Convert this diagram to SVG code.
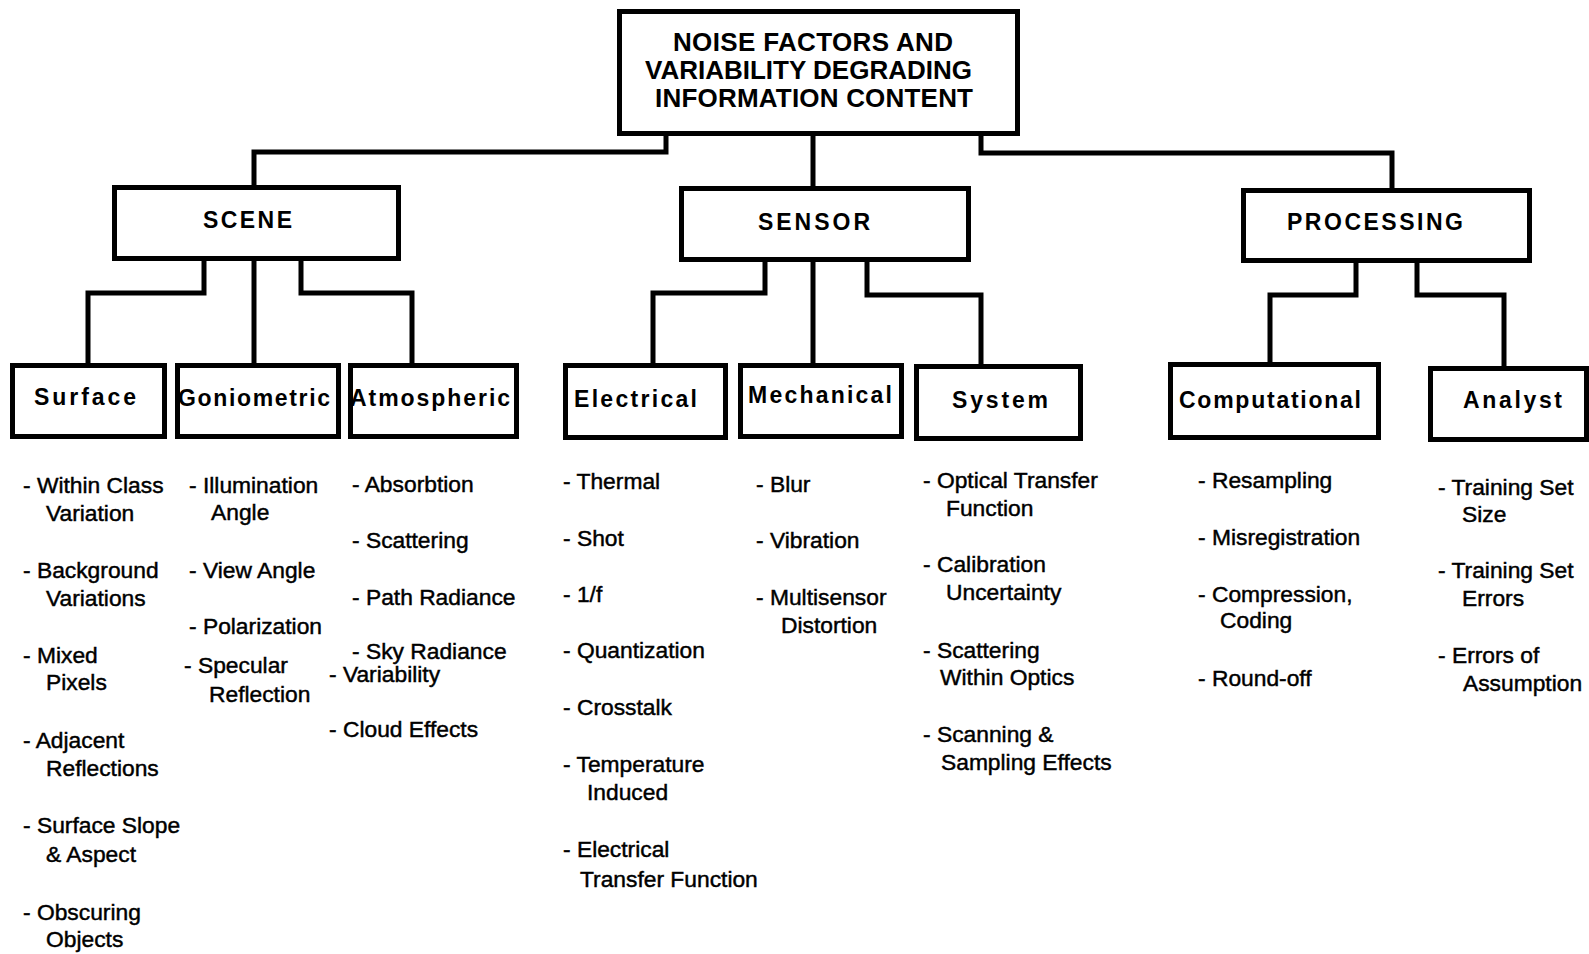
<svg xmlns="http://www.w3.org/2000/svg" width="1589" height="954" viewBox="0 0 1589 954">
<style>
.box{fill:#fff;stroke:#000;stroke-width:5}
.lbl{font-family:"Liberation Sans",Arial,sans-serif;font-weight:bold;font-size:23px;fill:#000}
.ttl{font-family:"Liberation Sans",Arial,sans-serif;font-weight:bold;font-size:26px;fill:#000}
.it{font-family:"Liberation Sans",Arial,sans-serif;font-size:22.8px;fill:#000;stroke:#000;stroke-width:0.45}
.con{fill:none;stroke:#000;stroke-width:5;stroke-linejoin:miter}
</style>
<rect width="1589" height="954" fill="#fff"/>
<g id="connectors">
<path class="con" d="M666,135 V152 H254 V187"/>
<path class="con" d="M813,135 V188"/>
<path class="con" d="M981,135 V153 H1392 V190"/>
<path class="con" d="M204,260 V293 H88 V365"/>
<path class="con" d="M254,260 V365"/>
<path class="con" d="M301,260 V293 H412 V365"/>
<path class="con" d="M765,261 V293 H653 V365"/>
<path class="con" d="M813,261 V365"/>
<path class="con" d="M867,261 V295 H981 V366"/>
<path class="con" d="M1356,262 V295 H1270 V364"/>
<path class="con" d="M1417,262 V295 H1504 V368"/>
</g>
<g id="root">
<rect class="box" x="619.5" y="11.5" width="398" height="122"/>
<text class="ttl" x="673" y="51" textLength="280" lengthAdjust="spacing">NOISE FACTORS AND</text>
<text class="ttl" x="645" y="79" textLength="327" lengthAdjust="spacing">VARIABILITY DEGRADING</text>
<text class="ttl" x="655" y="107" textLength="318" lengthAdjust="spacing">INFORMATION CONTENT</text>
</g>
<g id="scene">
<rect class="box" x="114.5" y="187.5" width="284" height="71"/>
<text class="lbl" x="203" y="228" textLength="89" lengthAdjust="spacing">SCENE</text>
</g>
<g id="sensor">
<rect class="box" x="681.5" y="188.5" width="287" height="71"/>
<text class="lbl" x="758" y="230" textLength="112" lengthAdjust="spacing">SENSOR</text>
</g>
<g id="processing">
<rect class="box" x="1243.5" y="190.5" width="286" height="70"/>
<text class="lbl" x="1287" y="230" textLength="176" lengthAdjust="spacing">PROCESSING</text>
</g>
<g id="surface">
<rect class="box" x="12.5" y="365.5" width="152" height="71"/>
<text class="lbl" x="34" y="405" textLength="102" lengthAdjust="spacing">Surface</text>
<text class="it" x="23" y="493">- Within Class</text>
<text class="it" x="46" y="521">Variation</text>
<text class="it" x="23" y="578">- Background</text>
<text class="it" x="46" y="606">Variations</text>
<text class="it" x="23" y="663">- Mixed</text>
<text class="it" x="46" y="690">Pixels</text>
<text class="it" x="23" y="748">- Adjacent</text>
<text class="it" x="46" y="776">Reflections</text>
<text class="it" x="23" y="833">- Surface Slope</text>
<text class="it" x="46" y="862">&amp; Aspect</text>
<text class="it" x="23" y="920">- Obscuring</text>
<text class="it" x="46" y="947">Objects</text>
</g>
<g id="goniometric">
<rect class="box" x="177.5" y="365.5" width="161" height="71"/>
<text class="lbl" x="178" y="406" textLength="152" lengthAdjust="spacing">Goniometric</text>
<text class="it" x="189" y="493">- Illumination</text>
<text class="it" x="211" y="520">Angle</text>
<text class="it" x="189" y="578">- View Angle</text>
<text class="it" x="189" y="634">- Polarization</text>
<text class="it" x="184" y="673">- Specular</text>
<text class="it" x="209" y="702">Reflection</text>
</g>
<g id="atmospheric">
<rect class="box" x="350.5" y="365.5" width="166" height="71"/>
<text class="lbl" x="350" y="406" textLength="160" lengthAdjust="spacing">Atmospheric</text>
<text class="it" x="352" y="492">- Absorbtion</text>
<text class="it" x="352" y="548">- Scattering</text>
<text class="it" x="352" y="605">- Path Radiance</text>
<text class="it" x="352" y="659">- Sky Radiance</text>
<text class="it" x="329" y="682">- Variability</text>
<text class="it" x="329" y="737">- Cloud Effects</text>
</g>
<g id="electrical">
<rect class="box" x="565.5" y="365.5" width="160" height="72"/>
<text class="lbl" x="574" y="407" textLength="123" lengthAdjust="spacing">Electrical</text>
<text class="it" x="563" y="489">- Thermal</text>
<text class="it" x="563" y="546">- Shot</text>
<text class="it" x="563" y="602">- 1/f</text>
<text class="it" x="563" y="658">- Quantization</text>
<text class="it" x="563" y="715">- Crosstalk</text>
<text class="it" x="563" y="772">- Temperature</text>
<text class="it" x="587" y="800">Induced</text>
<text class="it" x="563" y="857">- Electrical</text>
<text class="it" x="580" y="887">Transfer Function</text>
</g>
<g id="mechanical">
<rect class="box" x="740.5" y="365.5" width="161" height="71"/>
<text class="lbl" x="748" y="403" textLength="144" lengthAdjust="spacing">Mechanical</text>
<text class="it" x="756" y="492">- Blur</text>
<text class="it" x="756" y="548">- Vibration</text>
<text class="it" x="756" y="605">- Multisensor</text>
<text class="it" x="781" y="633">Distortion</text>
</g>
<g id="system">
<rect class="box" x="916.5" y="366.5" width="164" height="72"/>
<text class="lbl" x="952" y="408" textLength="96" lengthAdjust="spacing">System</text>
<text class="it" x="923" y="488">- Optical Transfer</text>
<text class="it" x="946" y="516">Function</text>
<text class="it" x="923" y="572">- Calibration</text>
<text class="it" x="946" y="600">Uncertainty</text>
<text class="it" x="923" y="658">- Scattering</text>
<text class="it" x="940" y="685">Within Optics</text>
<text class="it" x="923" y="742">- Scanning &amp;</text>
<text class="it" x="941" y="770">Sampling Effects</text>
</g>
<g id="computational">
<rect class="box" x="1170.5" y="364.5" width="208" height="73"/>
<text class="lbl" x="1179" y="408" textLength="182" lengthAdjust="spacing">Computational</text>
<text class="it" x="1198" y="488">- Resampling</text>
<text class="it" x="1198" y="545">- Misregistration</text>
<text class="it" x="1198" y="602">- Compression,</text>
<text class="it" x="1220" y="628">Coding</text>
<text class="it" x="1198" y="686">- Round-off</text>
</g>
<g id="analyst">
<rect class="box" x="1430.5" y="368.5" width="156" height="71"/>
<text class="lbl" x="1463" y="408" textLength="99" lengthAdjust="spacing">Analyst</text>
<text class="it" x="1438" y="495">- Training Set</text>
<text class="it" x="1462" y="522">Size</text>
<text class="it" x="1438" y="578">- Training Set</text>
<text class="it" x="1462" y="606">Errors</text>
<text class="it" x="1438" y="663">- Errors of</text>
<text class="it" x="1463" y="691">Assumption</text>
</g>
</svg>
